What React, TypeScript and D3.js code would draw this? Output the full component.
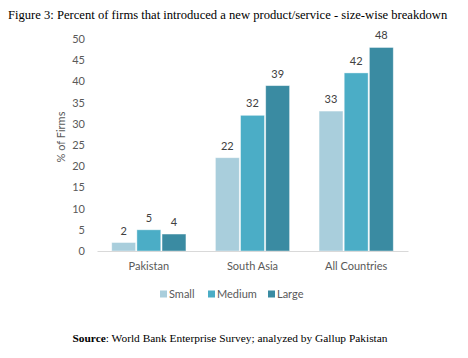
import { useEffect, useRef } from "react";
import * as d3 from "d3";

const categories = ["Pakistan", "South Asia", "All Countries"];
const sizes = ["Small", "Medium", "Large"];
const small = [2, 22, 33];
const medium = [5, 32, 42];
const large = [4, 39, 48];
const yTicks = [0, 5, 10, 15, 20, 25, 30, 35, 40, 45, 50];

const colors = ["#a9cedc", "#4badc6", "#3a8ba2"];
const tickFont = "Lato, 'Open Sans', sans-serif";
const serif = "'Liberation Serif', 'Times New Roman', serif";

export default function App() {
  const svgRef = useRef<SVGSVGElement | null>(null);

  useEffect(() => {
    const svgEl = svgRef.current;
    if (!svgEl) return;
    const width = 468;
    const height = 358;
    const margin = { top: 39, right: 60, bottom: 107, left: 97 };
    const chartWidth = width - margin.left - margin.right;
    const chartHeight = height - margin.top - margin.bottom;

    const series = [small, medium, large];
    const rows = categories.map((cat, i) => ({
      cat,
      values: sizes.map((s, j) => ({ size: s, idx: j, value: series[j][i] })),
    }));

    const x0 = d3.scaleBand().domain(categories).range([0, chartWidth]).paddingInner(0.26).paddingOuter(0.13);
    const x1 = d3.scaleBand().domain(sizes).range([0, x0.bandwidth()]).padding(0.05);
    const y = d3.scaleLinear().domain([0, 50]).range([chartHeight, 0]);

    const svg = d3.select(svgEl);
    svg.selectAll("*").remove();

    svg
      .append("text")
      .attr("x", 8)
      .attr("y", 19)
      .attr("font-family", serif)
      .attr("font-size", 12.6)
      .attr("fill", "#000")
      .text("Figure 3: Percent of firms that introduced a new product/service - size-wise breakdown");

    const chart = svg.append("g").attr("transform", `translate(${margin.left},${margin.top})`);

    const yAxis = chart
      .append("g")
      .call(d3.axisLeft(y).tickValues(yTicks).tickSize(0).tickPadding(12));
    yAxis.select(".domain").remove();
    yAxis
      .selectAll("text")
      .attr("font-family", tickFont)
      .attr("font-size", 11)
      .attr("fill", "#595959");

    chart
      .append("text")
      .attr("transform", `translate(-32,${chartHeight / 2 - 8}) rotate(-90)`)
      .attr("text-anchor", "middle")
      .attr("font-family", tickFont)
      .attr("font-size", 11)
      .attr("fill", "#595959")
      .text("% of Firms");

    const groups = chart
      .selectAll("g.grp")
      .data(rows)
      .join("g")
      .attr("class", "grp")
      .attr("transform", (d) => `translate(${x0(d.cat) ?? 0},0)`);

    groups
      .selectAll("rect")
      .data((d) => d.values)
      .join("rect")
      .attr("x", (d) => x1(d.size) ?? 0)
      .attr("y", (d) => y(d.value))
      .attr("width", x1.bandwidth())
      .attr("height", (d) => chartHeight - y(d.value))
      .attr("fill", (d) => colors[d.idx])
      .attr("stroke", "#ffffff")
      .attr("stroke-opacity", 0.5)
      .attr("stroke-width", 0.8);

    groups
      .selectAll("text.val")
      .data((d) => d.values)
      .join("text")
      .attr("class", "val")
      .attr("x", (d) => (x1(d.size) ?? 0) + x1.bandwidth() / 2)
      .attr("y", (d) => y(d.value) - 8)
      .attr("text-anchor", "middle")
      .attr("font-family", tickFont)
      .attr("font-size", 11)
      .attr("fill", "#404040")
      .text((d) => String(d.value));

    const xAxis = chart
      .append("g")
      .attr("transform", `translate(0,${chartHeight})`)
      .call(d3.axisBottom(x0).tickSize(0).tickPadding(11));
    xAxis.select(".domain").attr("stroke", "#d9d9d9").attr("stroke-width", 1.2);
    xAxis
      .selectAll("text")
      .attr("font-family", tickFont)
      .attr("font-size", 11)
      .attr("fill", "#595959");

    const legendX = [160, 208, 268];
    const legend = svg
      .selectAll("g.leg")
      .data(sizes)
      .join("g")
      .attr("class", "leg")
      .attr("transform", (_, i) => `translate(${legendX[i]},294)`);
    legend
      .append("rect")
      .attr("x", 0)
      .attr("y", -3.5)
      .attr("width", 7)
      .attr("height", 7)
      .attr("fill", (_, i) => colors[i]);
    legend
      .append("text")
      .attr("x", 9)
      .attr("y", 4)
      .attr("font-family", tickFont)
      .attr("font-size", 11)
      .attr("fill", "#595959")
      .text((d) => d);

    const src = svg
      .append("text")
      .attr("x", 230)
      .attr("y", 342)
      .attr("text-anchor", "middle")
      .attr("font-family", serif)
      .attr("font-size", 11.4)
      .attr("fill", "#000");
    src.append("tspan").attr("font-weight", "bold").text("Source");
    src.append("tspan").text(": World Bank Enterprise Survey; analyzed by Gallup Pakistan");
  }, []);

  return (
    <svg
      ref={svgRef}
      width={468}
      height={358}
      viewBox="0 0 468 358"
      style={{ position: "absolute", left: 0, top: 0, background: "#fff" }}
    />
  );
}
